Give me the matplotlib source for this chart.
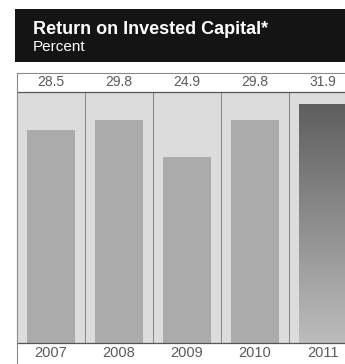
import numpy as np
import matplotlib
matplotlib.use("Agg")
import matplotlib.pyplot as plt
from matplotlib.patches import Rectangle
from matplotlib.lines import Line2D
import matplotlib.transforms as mtransforms

years = ["2007", "2008", "2009", "2010", "2011"]
roic = [28.5, 29.8, 24.9, 29.8, 31.9]

W, H = 345, 364
fig = plt.figure(figsize=(W / 100, H / 100), dpi=100)
fig.patch.set_facecolor("white")

def fx(px):
    return px / W

def fy(py):
    # pixel from top -> figure fraction from bottom
    return 1 - py / H

# black header band
fig.patches.append(Rectangle((fx(15), fy(62)), fx(345 - 15), (62 - 9) / H,
                             transform=fig.transFigure, facecolor="#141414",
                             edgecolor="none", zorder=0))
fig.text(fx(33), fy(30), "Return on Invested Capital*", color="white",
         fontsize=13, fontweight="bold", family="Liberation Sans", va="center")
fig.text(fx(33), fy(47), "Percent", color="white", fontsize=11,
         family="Liberation Sans", va="center")

# main bar panel
left, right = 17, 345
top, bottom = 92, 343
col_w = 68
ax = fig.add_axes([fx(left), fy(bottom), fx(right - left), (bottom - top) / H])
ax.set_facecolor("#dcdcdc")
x = np.arange(len(years))
ax.set_xlim(-0.5, -0.5 + (right - left) / col_w)
ax.set_ylim(0.8, 33.4)

bars = ax.bar(x, roic, width=0.72, color="#ababab", edgecolor="none", zorder=2)
# gradient for the latest year
last = bars[-1]
last.set_facecolor("none")
grad = np.linspace(0, 1, 256).reshape(-1, 1)
cmap = matplotlib.colors.LinearSegmentedColormap.from_list("g", ["#bdbdbd", "#5e5e5e"])
bx, bw = last.get_x(), last.get_width()
im = ax.imshow(grad, extent=(bx, bx + bw, 0.8, roic[-1]), origin="lower",
               cmap=cmap, aspect="auto", zorder=2)
im.set_clip_path(last)

for i in range(1, len(years)):
    ax.axvline(i - 0.5, color="#777777", lw=0.6, zorder=3)

for s in ax.spines.values():
    s.set_visible(False)
ax.set_xticks([])
ax.set_yticks([])

# value row above and year row below, sharing the axis x positions
blend = mtransforms.blended_transform_factory(ax.transData, fig.transFigure)
for i, (yr, v) in enumerate(zip(years, roic)):
    fig.text(i, fy(82.5), f"{v:.1f}", transform=blend, ha="center", va="center",
             fontsize=10, color="#5a5a5a", family="Liberation Sans")
    fig.text(i, fy(353), yr, transform=blend, ha="center", va="center",
             fontsize=10.5, color="#5a5a5a", family="Liberation Sans")

# frame lines
def hline(py, color, lw):
    fig.lines.append(Line2D([fx(left), 1], [fy(py), fy(py)], transform=fig.transFigure,
                            color=color, lw=lw))

hline(72.5, "#8a8a8a", 0.8)
hline(92, "#555555", 0.9)
hline(343, "#555555", 0.9)
fig.lines.append(Line2D([fx(left), fx(left)], [fy(72.5), fy(363)],
                        transform=fig.transFigure, color="#8a8a8a", lw=0.8))

fig.savefig("out.png", dpi=100)
